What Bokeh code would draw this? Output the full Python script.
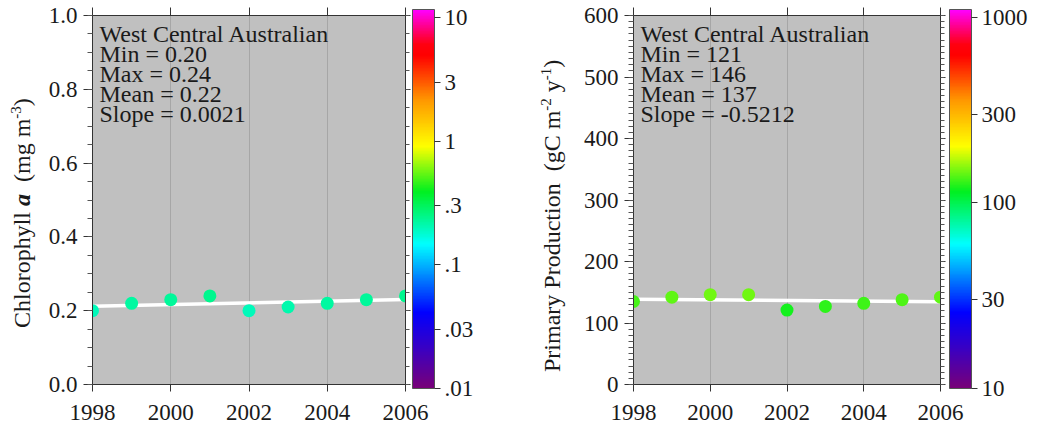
import math
import numpy as np
from bokeh.plotting import figure
from bokeh.models import (Range1d, LinearAxis, SingleIntervalTicker, FixedTicker,
                          ColorBar, LogColorMapper, Label, ColumnDataSource,
                          PrintfTickFormatter, Div)
from bokeh.layouts import row
from bokeh.embed import file_html
from bokeh.resources import INLINE

# ---------------- data ----------------
years = [1998, 1999, 2000, 2001, 2002, 2003, 2004, 2005, 2006]
chl = [0.20, 0.22, 0.23, 0.24, 0.20, 0.21, 0.22, 0.23, 0.24]
pp = [135, 142, 146, 146, 121, 127, 132, 138, 142]
region = "West Central Australian"
chl_slope_text = "0.0021"
pp_slope_text = "-0.5212"
chl_cbar_ticks = [0.01, 0.03, 0.1, 0.3, 1, 3, 10]
chl_cbar_labels = [".01", ".03", ".1", ".3", "1", "3", "10"]
pp_cbar_ticks = [10, 30, 100, 300, 1000]
pp_cbar_labels = ["10", "30", "100", "300", "1000"]
year_ticks = [1998, 2000, 2002, 2004, 2006]
grid_years = [2000, 2002, 2004]

# ---------------- style ----------------
FONT = "Liberation Serif"
BG = "#c0c0c0"
TXT = "#1a1a1a"
H = 430

anchors = [(0.00, "#780078"), (0.10, "#3c00c0"), (0.20, "#0000ff"),
           (0.38, "#00ffff"), (0.52, "#00f020"), (0.64, "#ffff00"),
           (0.76, "#ff9900"), (0.88, "#ff0000"), (0.91, "#ff0010"),
           (1.00, "#ff00ff")]


def hex2rgb(h):
    return tuple(int(h[i:i + 2], 16) for i in (1, 3, 5))


def build_palette(n=256):
    out = []
    for k in range(n):
        f = k / (n - 1)
        for (f0, c0), (f1, c1) in zip(anchors[:-1], anchors[1:]):
            if f0 <= f <= f1:
                t = 0 if f1 == f0 else (f - f0) / (f1 - f0)
                a, b = hex2rgb(c0), hex2rgb(c1)
                rgb = [round(a[i] + (b[i] - a[i]) * t) for i in range(3)]
                out.append("#%02x%02x%02x" % tuple(rgb))
                break
    return out


PALETTE = build_palette()


def ticks_only_axis(ticker, tick_out, minor_out):
    return LinearAxis(ticker=ticker,
                      major_label_text_font_size="1px", major_label_text_color=None,
                      major_label_standoff=0,
                      major_tick_out=tick_out, major_tick_in=0,
                      minor_tick_out=minor_out, minor_tick_in=0,
                      axis_line_color="#333333", major_tick_line_color="#333333",
                      minor_tick_line_color="#555555")


def make_panel(width, border_left, border_right, cb_gap, yrange, ymajor, nminor,
               yfmt_digits, values, cmin, cmax, cticks, clabels, stats):
    frame_w = width - border_left - border_right
    p = figure(width=width, height=H,
               x_range=Range1d(years[0], years[-1]), y_range=Range1d(*yrange),
               output_backend="svg", toolbar_location=None,
               min_border_left=border_left, min_border_right=border_right,
               min_border_top=15, min_border_bottom=46,
               background_fill_color=BG, border_fill_color="white",
               outline_line_color="#333333", outline_line_width=1)

    # grid
    p.ygrid.visible = False
    p.xgrid.ticker = FixedTicker(ticks=grid_years)
    p.xgrid.grid_line_color = "#a6a6a6"
    p.xgrid.grid_line_width = 1

    # bottom axis
    xa = p.xaxis[0]
    xa.ticker = FixedTicker(ticks=year_ticks)
    xa.major_label_text_font = FONT
    xa.major_label_text_font_size = "23px"
    xa.major_label_text_color = TXT
    xa.major_tick_out = 7
    xa.major_tick_in = 0
    xa.minor_tick_out = 0
    xa.major_label_standoff = 13
    xa.axis_line_color = "#333333"
    xa.major_tick_line_color = "#333333"

    # left axis
    ya = p.yaxis[0]
    ya.ticker = SingleIntervalTicker(interval=ymajor, num_minor_ticks=nminor)
    ya.formatter = PrintfTickFormatter(format="%%.%df" % yfmt_digits)
    ya.major_label_text_font = FONT
    ya.major_label_text_font_size = "23px"
    ya.major_label_text_color = TXT
    ya.major_tick_out = 9
    ya.major_tick_in = 0
    ya.minor_tick_out = 5
    ya.minor_tick_in = 0
    ya.major_label_standoff = 6
    ya.axis_line_color = "#333333"
    ya.major_tick_line_color = "#333333"
    ya.minor_tick_line_color = "#555555"

    # top and right axes carry ticks only
    p.add_layout(ticks_only_axis(FixedTicker(ticks=year_ticks), 8, 0), "above")
    p.add_layout(ticks_only_axis(SingleIntervalTicker(interval=ymajor,
                                                      num_minor_ticks=nminor), 5, 4),
                 "right")

    mapper = LogColorMapper(palette=PALETTE, low=cmin, high=cmax)

    # trend line (least squares fit of the series)
    k, b = np.polyfit(years, values, 1)
    p.line([years[0], years[-1]], [k * years[0] + b, k * years[-1] + b],
           line_color="white", line_width=3.5)

    src = ColumnDataSource(dict(x=years, y=values))
    p.scatter("x", "y", source=src, size=13, line_color=None,
              fill_color={"field": "y", "transform": mapper})

    # statistics text
    for i, line in enumerate(stats):
        p.add_layout(Label(x=years[0], y=yrange[1], x_offset=7, y_offset=-18 - 20 * i,
                           text=line, text_font=FONT, text_font_size="24px",
                           text_color=TXT, text_baseline="alphabetic",
                           text_align="left"))

    # colour bar
    cb = ColorBar(color_mapper=mapper, ticker=FixedTicker(ticks=cticks),
                  major_label_overrides={t: l for t, l in zip(cticks, clabels)},
                  width=22, height=379, padding=0, margin=0,
                  location=(frame_w + cb_gap, -4),
                  major_tick_out=6, major_tick_in=0,
                  major_tick_line_color="#333333",
                  minor_tick_line_color=None,
                  bar_line_color="#555555",
                  label_standoff=4,
                  major_label_text_font=FONT, major_label_text_font_size="23px",
                  major_label_text_color=TXT,
                  background_fill_alpha=0, border_line_color=None)
    p.add_layout(cb, "center")
    return p


def make_label_strip(width, html, left, bottom):
    """Narrow strip holding the rotated y-axis title (rich text)."""
    sup = "font-size:15px;position:relative;top:-9px;"
    html = html.replace("<sup>", '<span style="%s">' % sup).replace("</sup>", "</span>")
    inner = ('<div style="position:relative;width:%dpx;height:%dpx;overflow:visible;">'
             '<div style="position:absolute;left:%dpx;top:%dpx;transform-origin:0 0;'
             'transform:rotate(-90deg);white-space:nowrap;font-family:\'%s\';'
             'font-size:24px;line-height:24px;color:%s;">%s</div></div>'
             % (width, H, left, bottom, FONT, TXT, html))
    return Div(text=inner, width=width, height=H, margin=0,
               styles={"overflow": "visible"})


chl_stats = [region,
             "Min = %.2f" % min(chl),
             "Max = %.2f" % max(chl),
             "Mean = %.2f" % (sum(chl) / len(chl)),
             "Slope = " + chl_slope_text]
pp_stats = [region,
            "Min = %d" % min(pp),
            "Max = %d" % max(pp),
            "Mean = %d" % round(sum(pp) / len(pp)),
            "Slope = " + pp_slope_text]

chl_title = "Chlorophyll <b><i>a</i></b>&nbsp; (mg m<sup>-3</sup>)"
pp_title = "Primary Production&nbsp; (gC m<sup>-2</sup> y<sup>-1</sup>)"

s1 = make_label_strip(40, chl_title, 10, 328)
p1 = make_panel(475, 52, 110, 7, (0, 1.0), 0.2, 4, 1, chl, 0.01, 11.6,
                chl_cbar_ticks, chl_cbar_labels, chl_stats)
s2 = make_label_strip(60, pp_title, 25, 372)
p2 = make_panel(475, 58, 110, 9, (0, 600), 100, 10, 0, pp, 10, 1100,
                pp_cbar_ticks, pp_cbar_labels, pp_stats)

layout = row(s1, p1, s2, p2)
open("out.html", "w").write(file_html(layout, INLINE))
